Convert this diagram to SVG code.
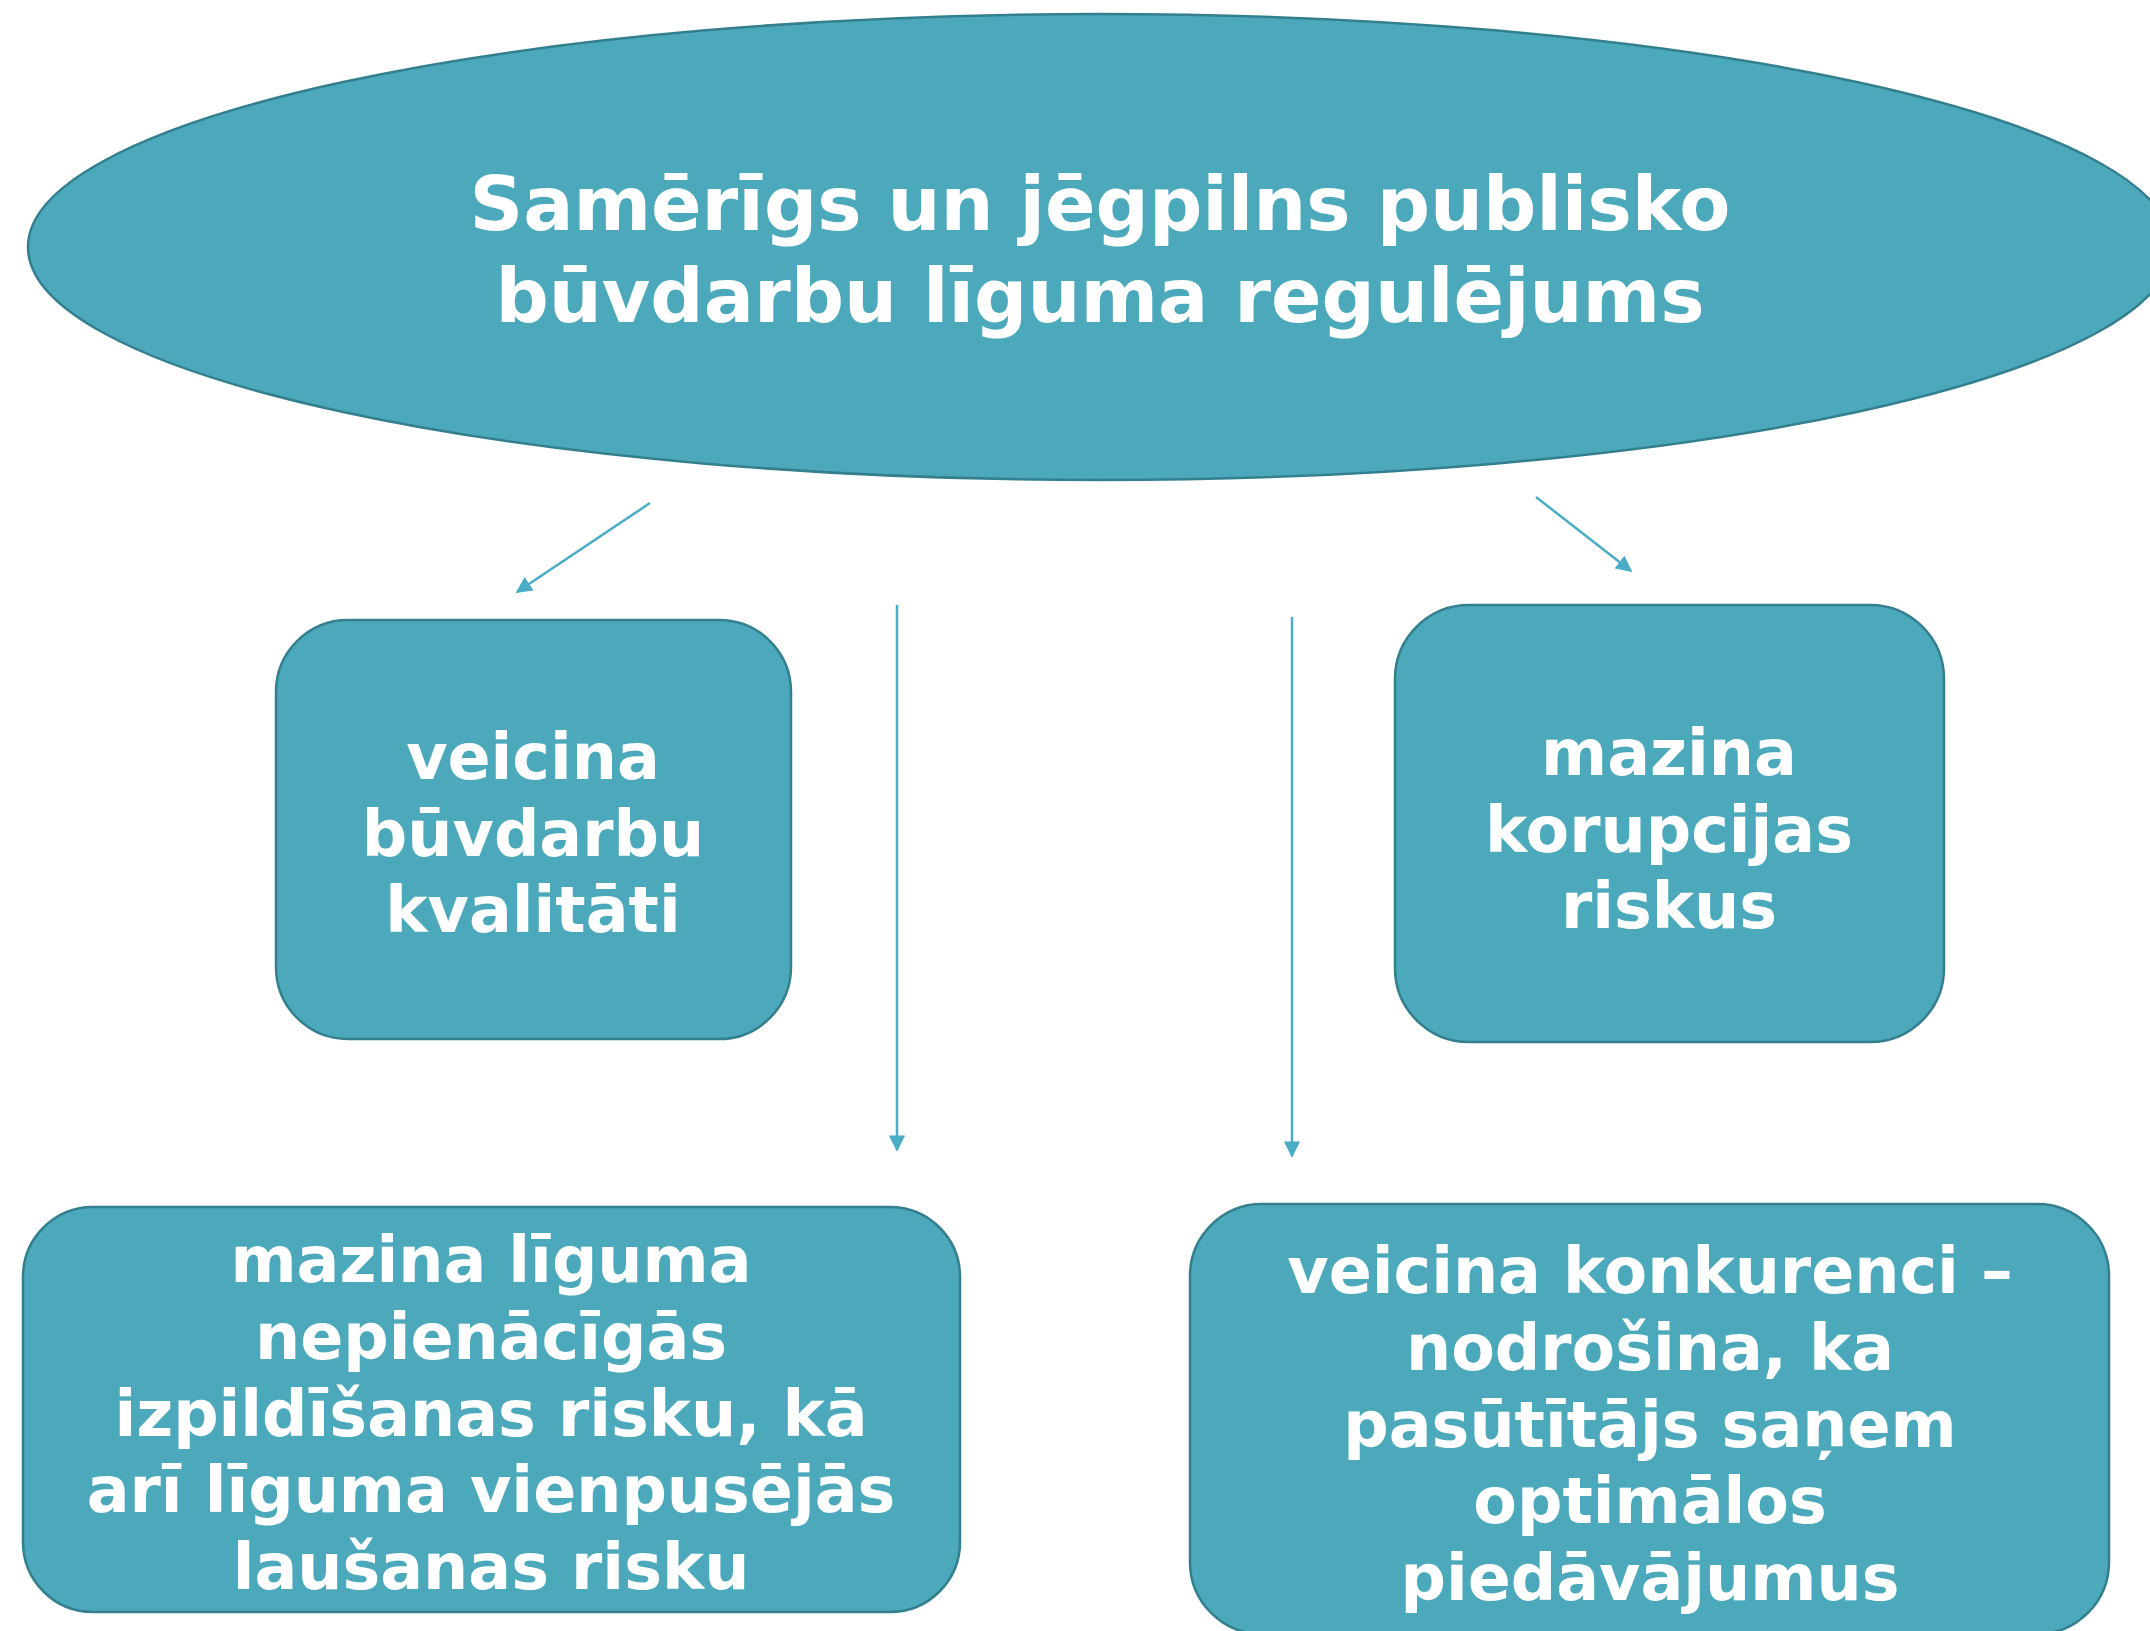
<svg xmlns="http://www.w3.org/2000/svg" width="2150" height="1631" viewBox="0 0 2150 1631">
<style>
.node{fill:#4CA9BB;stroke:#337F8E;stroke-width:2.5}
.t{font-family:"DejaVu Sans","Verdana",sans-serif;font-weight:bold;fill:#FFFFFF;text-anchor:middle}
.tt{font-size:74.5px}
.tb{font-size:63.5px}
.conn{stroke:#4BACC6;stroke-width:2.5;fill:none;marker-end:url(#ah)}
</style>
<defs>
<marker id="ah" viewBox="0 0 10 10" refX="9" refY="5" markerWidth="6.5" markerHeight="6.5" markerUnits="strokeWidth" orient="auto">
<path d="M0,0 L10,5 L0,10 z" fill="#4BACC6"/>
</marker>
</defs>
<rect width="2150" height="1631" fill="#FFFFFF"/>
<g id="connectors">
<line class="conn" x1="650" y1="503" x2="517" y2="592"/>
<line class="conn" x1="897" y1="605" x2="897" y2="1150"/>
<line class="conn" x1="1292" y1="617" x2="1292" y2="1156"/>
<line class="conn" x1="1536" y1="497" x2="1631" y2="571"/>
</g>
<g id="root">
<ellipse class="node" cx="1100" cy="247" rx="1072" ry="233"/>
<text class="t tt" x="1100" y="230">Samērīgs un jēgpilns publisko</text>
<text class="t tt" x="1100" y="322">būvdarbu līguma regulējums</text>
</g>
<g id="n1">
<rect class="node" x="276" y="620" width="515" height="419" rx="72" ry="72"/>
<text class="t tb" x="533" y="779">veicina</text>
<text class="t tb" x="533" y="856">būvdarbu</text>
<text class="t tb" x="533" y="932">kvalitāti</text>
</g>
<g id="n2">
<rect class="node" x="1395" y="605" width="549" height="437" rx="74" ry="74"/>
<text class="t tb" x="1669" y="775">mazina</text>
<text class="t tb" x="1669" y="852">korupcijas</text>
<text class="t tb" x="1669" y="928">riskus</text>
</g>
<g id="n3">
<rect class="node" x="23" y="1207" width="937" height="405" rx="70" ry="70"/>
<text class="t tb" x="491" y="1282">mazina līguma</text>
<text class="t tb" x="491" y="1359">nepienācīgās</text>
<text class="t tb" x="491" y="1436">izpildīšanas risku, kā</text>
<text class="t tb" x="491" y="1512">arī līguma vienpusējās</text>
<text class="t tb" x="491" y="1589">laušanas risku</text>
</g>
<g id="n4">
<rect class="node" x="1190" y="1204" width="919" height="430" rx="72" ry="72"/>
<text class="t tb" x="1650" y="1293">veicina konkurenci –</text>
<text class="t tb" x="1650" y="1370">nodrošina, ka</text>
<text class="t tb" x="1650" y="1447">pasūtītājs saņem</text>
<text class="t tb" x="1650" y="1523">optimālos</text>
<text class="t tb" x="1650" y="1600">piedāvājumus</text>
</g>
</svg>
